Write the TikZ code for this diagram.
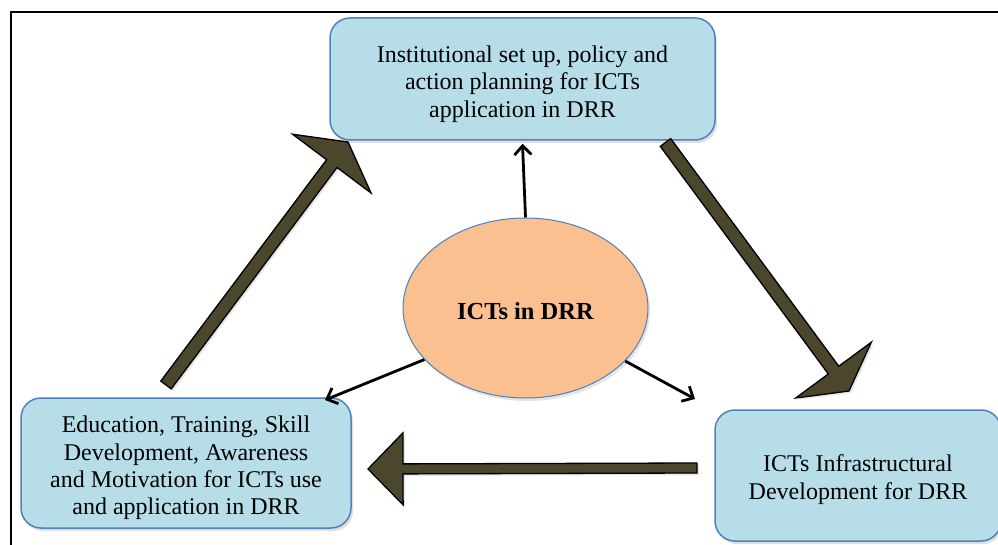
\documentclass[tikz,border=0pt]{standalone}
\usepackage{fontspec}
\setmainfont{Liberation Serif}
\usetikzlibrary{shapes.geometric,arrows.meta,calc,shadows}
\definecolor{boxfill}{HTML}{B7DEE8}
\definecolor{boxline}{HTML}{4F81BD}
\definecolor{ellfill}{HTML}{FAC090}
\definecolor{arrowfill}{RGB}{76,70,44}
\tikzset{
  box/.style={draw=boxline, fill=boxfill, line width=1.5pt, rounded corners=20pt,
    inner sep=0pt,
    drop shadow={opacity=0.25, shadow xshift=2pt, shadow yshift=-3pt}},
  boxtext/.style={align=center, inner sep=0pt, font=\fontsize{24}{27.3}\selectfont},
  centre/.style={ellipse, draw=boxline, fill=ellfill, line width=1pt, inner sep=0pt,
    drop shadow={opacity=0.2, shadow xshift=2pt, shadow yshift=-3pt}},
  centretext/.style={inner sep=0pt, font=\bfseries\fontsize{24.5}{27}\selectfont},
  thinarrow/.style={line width=2.8pt, -{Straight Barb[length=9pt,width=17pt]}},
  blockarrow/.style={fill=arrowfill, draw=black, line width=1.3pt, line join=miter,
    drop shadow={opacity=0.2, shadow xshift=2pt, shadow yshift=-2pt}}
}
% #1 start, #2 end, #3 half shaft width, #4 half head width, #5 head length
\newcommand{\blockarr}[5]{%
  \coordinate (hb) at ($(#2)!#5!(#1)$);
  \draw[blockarrow] ($(#1)!#3!90:(#2)$) -- ($(hb)!#3!90:(#2)$) -- ($(hb)!#4!90:(#2)$)
    -- (#2) -- ($(hb)!#4!-90:(#2)$) -- ($(hb)!#3!-90:(#2)$) -- ($(#1)!#3!-90:(#2)$) -- cycle;
}
\begin{document}
\begin{tikzpicture}[x=1pt,y=-1pt]
\useasboundingbox (0,0) rectangle (998,545);
\clip (0,0) rectangle (998,545);
\fill[white] (0,0) rectangle (998,545);
% frame
\draw[line width=1.6pt] (11,560) -- (11,12) -- (1010,12);

% nodes
\node[box, minimum width=385pt, minimum height=122pt,
  label={[boxtext, yshift=-5pt]center:{Institutional set up, policy and\\action planning for ICTs\\application in DRR}}]
  (top) at (522.5,79) {};
\node[box, minimum width=330pt, minimum height=130pt,
  label={[boxtext, yshift=-5pt]center:{Education, Training, Skill\\Development, Awareness\\and Motivation for ICTs use\\and application in DRR}}]
  (left) at (186,463) {};
\node[box, minimum width=286pt, minimum height=131pt,
  label={[boxtext, yshift=-4pt]center:{ICTs Infrastructural\\Development for DRR}}]
  (right) at (858,475.5) {};
\node[centre, minimum width=245pt, minimum height=180pt,
  label={[centretext, yshift=-3pt]center:ICTs in DRR}]
  (ell) at (525.5,308) {};

% block arrows (cycle)
\coordinate (a1s) at (166,385);
\coordinate (a1e) at (348,142);
\coordinate (a2s) at (665.5,142.5);
\coordinate (a2e) at (849,391);
\coordinate (a3s) at (697,468);
\coordinate (a3e) at (368,469);
\blockarr{a1s}{a1e}{6.5pt}{49pt}{27pt}
\blockarr{a2s}{a2e}{6.5pt}{47pt}{26pt}
\blockarr{a3s}{a3e}{5pt}{36pt}{35pt}

% thin arrows from centre
\coordinate (lt) at (325,400);
\coordinate (rt) at (695,399);
\draw[thinarrow] (ell.north) -- ($(top.south)+(0,3)$);
\draw[thinarrow] (ell.207) -- (lt);
\draw[thinarrow] (ell.332) -- (rt);
\end{tikzpicture}
\end{document}
